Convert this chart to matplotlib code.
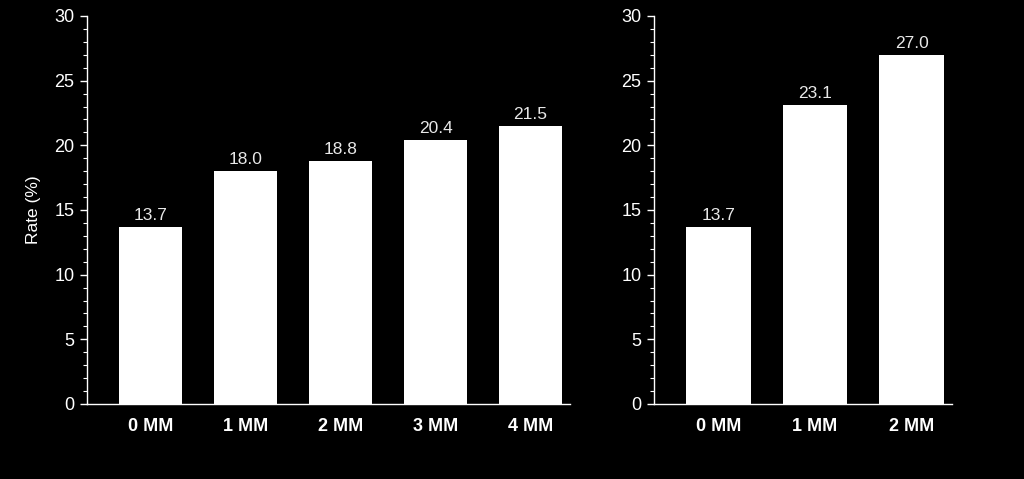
import matplotlib
matplotlib.use("Agg")
import matplotlib.pyplot as plt
import matplotlib.ticker as mticker

plt.rcParams["font.family"] = ["Liberation Sans", "DejaVu Sans"]

# Data
LEFT_CATS = ["0 MM", "1 MM", "2 MM", "3 MM", "4 MM"]
LEFT_VALS = [13.7, 18.0, 18.8, 20.4, 21.5]
RIGHT_CATS = ["0 MM", "1 MM", "2 MM"]
RIGHT_VALS = [13.7, 23.1, 27.0]

FG = "white"
LABEL_COLOR = "#e8e8e8"

fig = plt.figure(figsize=(10.24, 4.79), dpi=100, facecolor="black")
ax_l = fig.add_axes([0.085, 0.1566, 0.472, 0.81])
ax_r = fig.add_axes([0.6387, 0.1566, 0.291, 0.81])


def draw_panel(ax, cats, vals):
    ax.set_facecolor("black")
    xs = range(len(cats))
    ax.bar(xs, vals, width=0.67, color="white", edgecolor="none", zorder=2)
    for x, v in zip(xs, vals):
        ax.annotate(f"{v:.1f}", xy=(x, v), xytext=(0, 3),
                    textcoords="offset points", ha="center", va="bottom",
                    fontsize=12.5, color=LABEL_COLOR)
    ax.set_xlim(-0.67, len(cats) - 1 + 0.42)
    ax.set_ylim(0, 30)
    ax.set_yticks(range(0, 31, 5))
    ax.yaxis.set_minor_locator(mticker.MultipleLocator(1))
    ax.set_xticks(list(xs))
    ax.set_xticklabels(cats, fontweight="bold")
    ax.tick_params(axis="x", length=0, pad=10, labelsize=13, colors=FG)
    ax.tick_params(axis="y", which="major", length=5, width=1,
                   labelsize=13, colors=FG, pad=4)
    ax.tick_params(axis="y", which="minor", length=3, width=0.8, colors=FG)
    for s in ("top", "right"):
        ax.spines[s].set_visible(False)
    for s in ("left", "bottom"):
        ax.spines[s].set_color(FG)
        ax.spines[s].set_linewidth(1.0)


draw_panel(ax_l, LEFT_CATS, LEFT_VALS)
draw_panel(ax_r, RIGHT_CATS, RIGHT_VALS)
ax_l.set_ylabel("Rate (%)", fontsize=12.5, color=FG, labelpad=10)

fig.savefig("out.png", dpi=100, facecolor="black")
